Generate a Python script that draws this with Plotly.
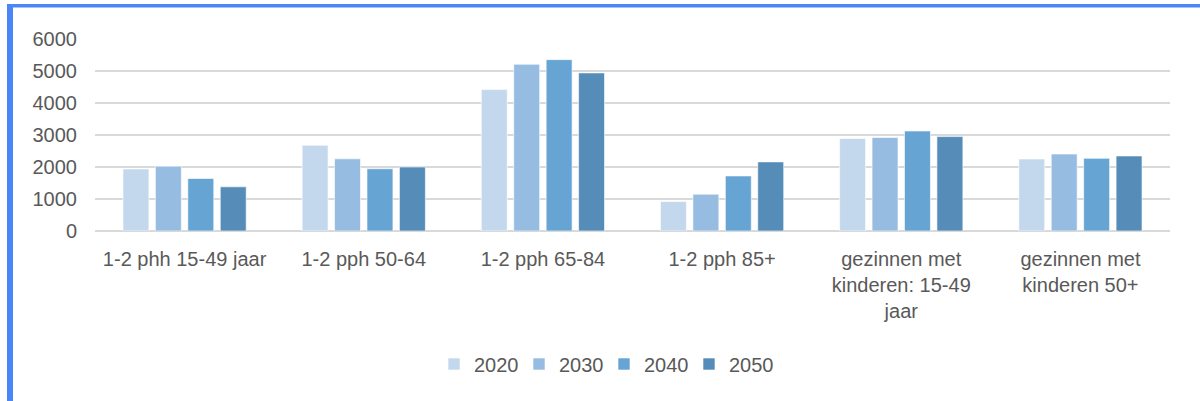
import plotly.graph_objects as go

categories = ["1-2 phh 15-49 jaar", "1-2 pph 50-64", "1-2 pph 65-84", "1-2 pph 85+",
              "gezinnen met<br>kinderen: 15-49<br>jaar", "gezinnen met<br>kinderen 50+"]
years = ["2020", "2030", "2040", "2050"]
v2020 = [1940, 2680, 4420, 920, 2890, 2250]
v2030 = [2025, 2255, 5210, 1150, 2920, 2405]
v2040 = [1640, 1945, 5355, 1720, 3125, 2270]
v2050 = [1380, 2000, 4940, 2160, 2950, 2345]
colors = ["#C3D8ED", "#97BCE2", "#66A4D3", "#558CB8"]

W, H = 1200, 401
L, R, T, B = 95, 30, 39, 170
pw, ph = W - L - R, H - T - B

def px(x):
    return (x - L) / pw

def py(y):
    return (H - B - y) / ph

fig = go.Figure()
for name, vals, c in zip(years, [v2020, v2030, v2040, v2050], colors):
    fig.add_trace(go.Bar(x=categories, y=vals, name=name, marker=dict(color=c, line=dict(color="rgba(255,255,255,0.6)", width=1))))

fig.update_layout(
    width=W, height=H,
    margin=dict(l=L, r=R, t=T, b=B),
    paper_bgcolor="white", plot_bgcolor="white",
    barmode="group", bargap=0.276, bargroupgap=0.2,
    font=dict(family="Liberation Sans, Arial", size=20, color="#595959"),
    xaxis=dict(showgrid=False, showline=False, ticks="", ticklabelstandoff=14,
               tickfont=dict(size=20, color="#595959")),
    yaxis=dict(range=[0, 6000], dtick=1000, showgrid=True, gridcolor="#D9D9D9", gridwidth=1.5,
               zeroline=True, zerolinecolor="#D9D9D9", zerolinewidth=1.5,
               ticklabelstandoff=17, tickfont=dict(size=20, color="#595959")),
    legend=dict(orientation="h", x=px(604), xanchor="center", y=py(364), yanchor="middle",
                font=dict(size=20, color="#595959"), itemwidth=30, traceorder="normal",
                entrywidth=40, entrywidthmode="pixels"),
    showlegend=True,
    shapes=[
        dict(type="rect", xref="paper", yref="paper", x0=px(7), x1=px(1200), y0=py(4), y1=py(7.5),
             fillcolor="#4A86F8", line=dict(width=0), layer="above"),
        dict(type="rect", xref="paper", yref="paper", x0=px(7), x1=px(13), y0=py(4), y1=py(401),
             fillcolor="#4A86F8", line=dict(width=0), layer="above"),
    ],
)

fig.write_html("out.html", config={"displayModeBar": False},
               post_script="document.body.style.margin='0';document.body.style.overflow='hidden';")
